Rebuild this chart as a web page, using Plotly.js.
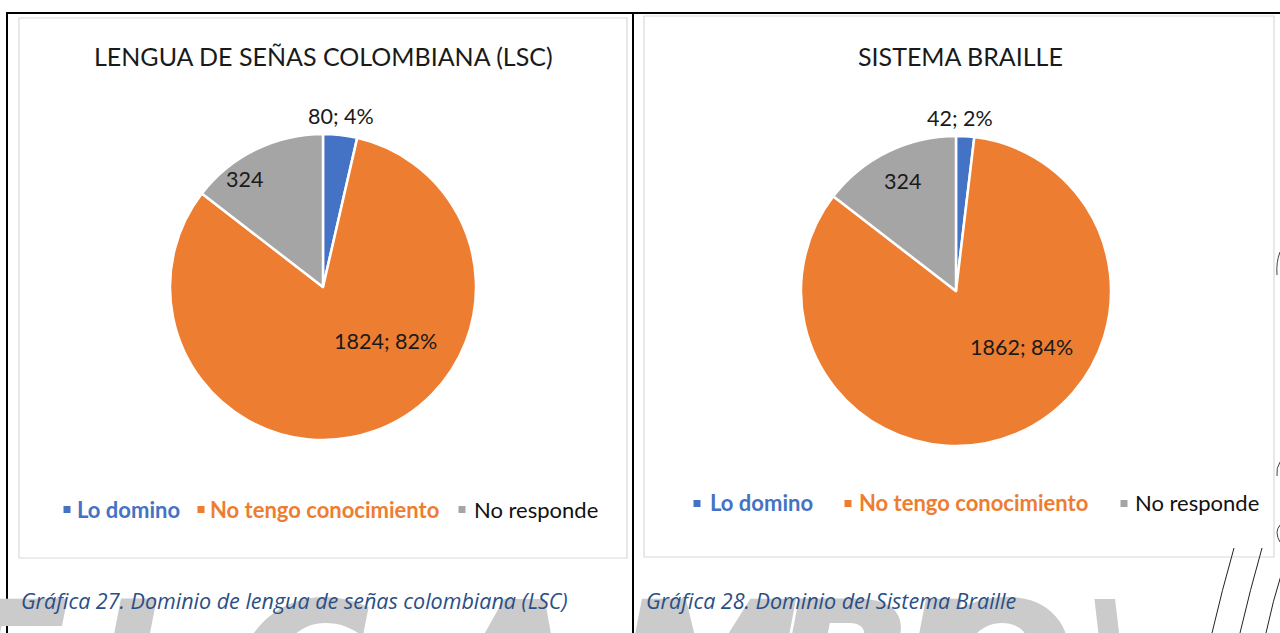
<!DOCTYPE html>
<html>
<head>
<meta charset="utf-8">
<script src="https://cdn.plot.ly/plotly-3.0.1.min.js"></script>
<style>
html,body{margin:0;padding:0;background:#fff;}
#chart{width:1280px;height:633px;}
</style>
</head>
<body>
<div id="chart"></div>
<script>
// ---- data ----
var categories = ["Lo domino", "No tengo conocimiento", "No responde"];
var lscValues = [80, 1824, 324];
var brailleValues = [42, 1862, 324];
var chartTitles = ["LENGUA DE SEÑAS COLOMBIANA (LSC)", "SISTEMA BRAILLE"];
var captions = ["Gráfica 27. Dominio de lengua de señas colombiana (LSC)", "Gráfica 28. Dominio del Sistema Braille"];
var showPercent = [true, true, false];

// ---- styling ----
var colors = ["#4472C4", "#ED7D31", "#A5A5A5"];
var legendTextColors = ["#4472C4", "#ED7D31", "#111111"];
var legendBold = [true, true, false];
var W = 1280, H = 633;
function px(x){ return x / W; }
function py(y){ return 1 - y / H; }
var FONT = "Lato, 'Open Sans', sans-serif";

function pieTrace(vals, cx, cy, r){
  return {
    type: "pie", labels: categories, values: vals, sort: false,
    direction: "clockwise", rotation: 0,
    marker: {colors: colors, line: {color: "#ffffff", width: 2.5}},
    textinfo: "none", hoverinfo: "label+value+percent", showlegend: false,
    domain: {x: [px(cx - r), px(cx + r)], y: [py(cy + r), py(cy - r)]}
  };
}

var pies = [
  {vals: lscValues, cx: 323, cy: 287, r: 153,
   labelPos: [[341,116],[385,341],[244,179]],
   titleX: 323, legendY: 509,
   legendSq: [67, 201, 462], legendTx: [75, 208, 472], capX: 19},
  {vals: brailleValues, cx: 956, cy: 291, r: 155,
   labelPos: [[960,118],[1021,347],[902,181]],
   titleX: 960, legendY: 503,
   legendSq: [697, 848, 1124], legendTx: [708, 857, 1133], capX: 644}
];

var data = [];
var annotations = [];
var shapes = [];

// watermark (background)
var wm = [["E",5],["L",150],["C",300],["A",505],["M",705],["B",840],["I",930],["O",995],["\\",1115]];
wm.forEach(function(w){
  annotations.push({xref:"paper", yref:"paper", x:px(w[1]), y:py(560), xanchor:"center", yanchor:"top",
    text:"<b>"+w[0]+"</b>", showarrow:false,
    font:{family:"'DejaVu Sans', sans-serif", size:190, color:"#cbcbcb", style:"italic"}});
});

// table borders
shapes.push({type:"line", xref:"paper", yref:"paper", x0:px(6), x1:px(1280), y0:py(13), y1:py(13), line:{color:"#000", width:2}});
shapes.push({type:"line", xref:"paper", yref:"paper", x0:px(7), x1:px(7), y0:py(13), y1:py(633), line:{color:"#000", width:2}});
shapes.push({type:"line", xref:"paper", yref:"paper", x0:px(633), x1:px(633), y0:py(13), y1:py(633), line:{color:"#000", width:2}});
// chart boxes
shapes.push({type:"rect", xref:"paper", yref:"paper", x0:px(19), x1:px(627), y0:py(558), y1:py(18), line:{color:"#d9d9d9", width:1.2}, fillcolor:"rgba(0,0,0,0)"});
shapes.push({type:"rect", xref:"paper", yref:"paper", x0:px(644), x1:px(1274), y0:py(557), y1:py(16), line:{color:"#d9d9d9", width:1.2}, fillcolor:"rgba(0,0,0,0)"});

// decorative lines bottom-right
shapes.push({type:"path", xref:"paper", yref:"paper", path:"M "+px(1234)+","+py(548)+" Q "+px(1222)+","+py(590)+" "+px(1212)+","+py(633), line:{color:"#222", width:1}});
shapes.push({type:"path", xref:"paper", yref:"paper", path:"M "+px(1262)+","+py(548)+" Q "+px(1250)+","+py(590)+" "+px(1240)+","+py(633), line:{color:"#222", width:1}});
shapes.push({type:"path", xref:"paper", yref:"paper", path:"M "+px(1282)+","+py(572)+" Q "+px(1273)+","+py(600)+" "+px(1266)+","+py(633), line:{color:"#222", width:1}});
shapes.push({type:"path", xref:"paper", yref:"paper", path:"M "+px(1280)+","+py(252)+" Q "+px(1276)+","+py(262)+" "+px(1277)+","+py(275), line:{color:"#444", width:1}});
shapes.push({type:"path", xref:"paper", yref:"paper", path:"M "+px(1280)+","+py(462)+" Q "+px(1276)+","+py(468)+" "+px(1277)+","+py(476), line:{color:"#444", width:1}});
shapes.push({type:"path", xref:"paper", yref:"paper", path:"M "+px(1280)+","+py(525)+" Q "+px(1274)+","+py(532)+" "+px(1280)+","+py(542), line:{color:"#444", width:1}});

pies.forEach(function(p, k){
  data.push(pieTrace(p.vals, p.cx, p.cy, p.r));
  var total = p.vals.reduce(function(a,b){return a+b;}, 0);
  // title
  annotations.push({xref:"paper", yref:"paper", x:px(p.titleX), y:py(56), xanchor:"center", yanchor:"middle",
    text: chartTitles[k], showarrow:false, font:{family:FONT, size:25, color:"#1a1a1a"}});
  // data labels
  p.vals.forEach(function(v, i){
    var t = showPercent[i] ? (v + "; " + Math.round(v/total*100) + "%") : String(v);
    annotations.push({xref:"paper", yref:"paper", x:px(p.labelPos[i][0]), y:py(p.labelPos[i][1]), xanchor:"center", yanchor:"middle",
      text:t, showarrow:false, font:{family:FONT, size:21.5, color:"#1a1a1a"}});
  });
  // legend
  categories.forEach(function(c, i){
    var sx = p.legendSq[i];
    shapes.push({type:"rect", xref:"paper", yref:"paper", x0:px(sx-3.5), x1:px(sx+3.5), y0:py(p.legendY+4), y1:py(p.legendY-3),
      line:{width:0}, fillcolor:colors[i]});
    annotations.push({xref:"paper", yref:"paper", x:px(p.legendTx[i]), y:py(p.legendY), xanchor:"left", yanchor:"middle",
      text: legendBold[i] ? "<b>"+c+"</b>" : c, showarrow:false,
      font:{family:FONT, size:22, color:legendTextColors[i]}});
  });
  // caption
  annotations.push({xref:"paper", yref:"paper", x:px(p.capX), y:py(600), xanchor:"left", yanchor:"middle",
    text:"<i>"+captions[k]+"</i>", showarrow:false, font:{family:"'Open Sans', sans-serif", size:21.5, color:"#2a4f86"}});
});

var layout = {
  width: W, height: H,
  margin: {l:0, r:0, t:0, b:0},
  paper_bgcolor: "#ffffff",
  showlegend: false,
  shapes: shapes,
  annotations: annotations
};
Plotly.newPlot("chart", data, layout, {displayModeBar:false, staticPlot:true});
</script>
</body>
</html>
